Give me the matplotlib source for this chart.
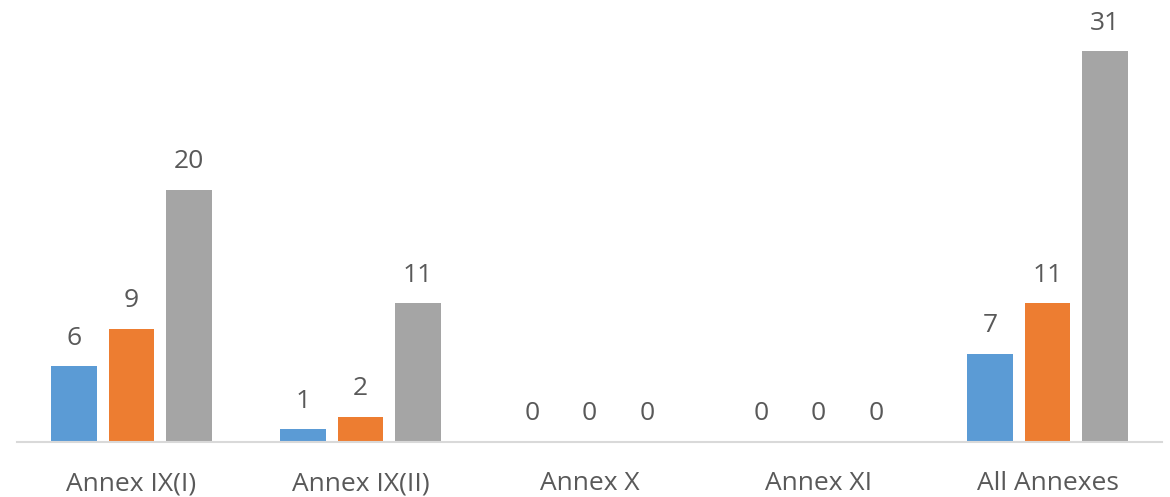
import numpy as np
import matplotlib.pyplot as plt

plt.rcParams['font.family'] = ['Open Sans', 'DejaVu Sans']

categories = ['Annex IX(I)', 'Annex IX(II)', 'Annex X', 'Annex XI', 'All Annexes']
series1 = [6, 1, 0, 0, 7]
series2 = [9, 2, 0, 0, 11]
series3 = [20, 11, 0, 0, 31]

colors = ['#5B9BD5', '#ED7D31', '#A5A5A5']
txt = '#595959'

fig = plt.figure(figsize=(11.7, 4.97), dpi=100)
ax = fig.add_axes([17/1170, 55/497, 1145/1170, 441/497])

x = np.arange(len(categories))
w = 0.2
off = 0.25
for i, vals in enumerate([series1, series2, series3]):
    bars = ax.bar(x + (i - 1)*off, vals, w, color=colors[i], zorder=2)
    for b, v in zip(bars, vals):
        ax.annotate(str(v), (b.get_x() + b.get_width()/2, v), xytext=(0, 15.5),
                    textcoords='offset points', ha='center', va='baseline',
                    fontsize=19, color=txt)

ax.set_xlim(-0.5, 4.5)
ax.set_ylim(0, 35)
ax.set_yticks([])
ax.set_xticks(x)
ax.set_xticklabels(categories, fontsize=19, color=txt)
ax.tick_params(axis='x', length=0, pad=21)
for s in ['top', 'right', 'left']:
    ax.spines[s].set_visible(False)
ax.spines['bottom'].set_color('#D9D9D9')
ax.spines['bottom'].set_linewidth(1.5)

plt.savefig('out.png', dpi=100)
